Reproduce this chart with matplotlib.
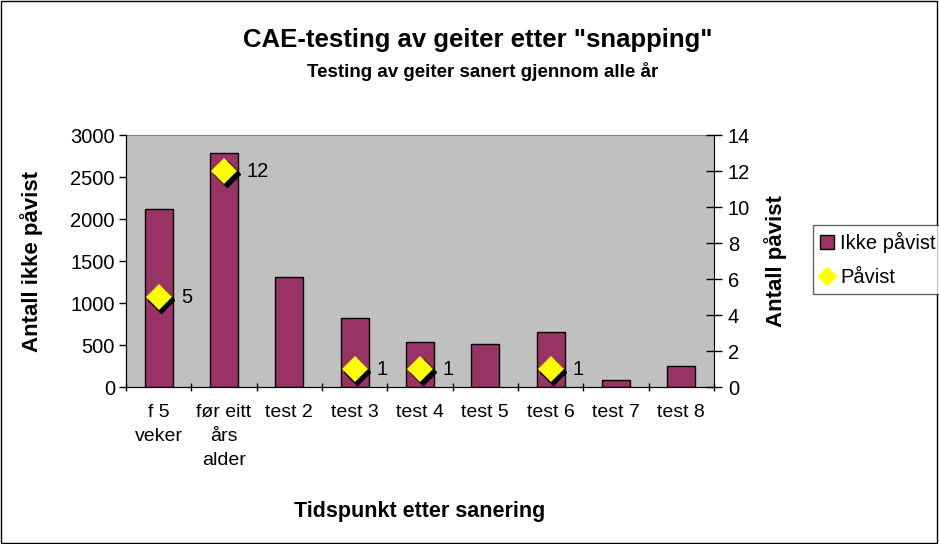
import numpy as np
import matplotlib.pyplot as plt
import matplotlib.transforms as mtransforms
from matplotlib.lines import Line2D
from matplotlib.patches import Patch, Rectangle

# data
categories = ['f 5\nveker', 'før eitt\nårs\nalder', 'test 2', 'test 3', 'test 4',
              'test 5', 'test 6', 'test 7', 'test 8']
ikke_pavist = [2120, 2780, 1310, 820, 530, 510, 650, 80, 250]
pavist_idx = [0, 1, 3, 4, 6]
pavist = [5, 12, 1, 1, 1]

plt.rcParams['font.family'] = ['Liberation Sans', 'DejaVu Sans']

fig = plt.figure(figsize=(9.39, 5.44), dpi=100)
fig.patches.append(Rectangle((0.001, 0.002), 0.997, 0.996, transform=fig.transFigure,
                             fill=False, edgecolor='black', linewidth=1))

ax = fig.add_axes([0.1342, 0.2886, 0.6262, 0.4632])
ax.set_facecolor('#C0C0C0')
x = np.arange(len(categories))
ax.bar(x, ikke_pavist, width=0.43, color='#993366', edgecolor='black', linewidth=1, zorder=2)
ax.set_xlim(-0.5, len(categories) - 0.5)
ax.set_ylim(0, 3000)
ax.set_yticks(np.arange(0, 3001, 500))
ax.set_xticks(x)
ax.set_xticklabels(categories, fontsize=14, linespacing=1.55)
ax.set_xticks(np.arange(-0.5, len(categories)), minor=True)
ax.tick_params(axis='x', which='major', length=0, pad=12)
ax.tick_params(axis='x', which='minor', length=6, direction='inout', width=1)
ax.tick_params(axis='y', labelsize=14.5, length=5, direction='out', width=1, pad=3)
ax.spines['top'].set_color('#808080')
ax.spines['right'].set_visible(False)
ax.set_ylabel('Antall ikke påvist', fontsize=16, fontweight='bold')
ax.yaxis.set_label_coords(-0.141, 0.5)
ax.set_xlabel('Tidspunkt etter sanering', fontsize=15.5, fontweight='bold')
ax.xaxis.set_label_coords(0.5, -0.496)
ax.xaxis.label.set_va('center')

ax2 = ax.twinx()
ax2.set_ylim(0, 14)
ax2.set_yticks(np.arange(0, 15, 2))
ax2.tick_params(axis='y', labelsize=14.5, length=12, direction='inout', width=1, pad=4)
ax2.spines['top'].set_visible(False)
ax2.set_ylabel('Antall påvist', fontsize=16, fontweight='bold')
ax2.yaxis.set_label_coords(1.104, 0.5)
ax2.yaxis.label.set_va('center')

# diamonds with shadow
shadow = mtransforms.offset_copy(ax2.transData, fig=fig, x=2.5, y=-2.5, units='dots')
ax2.plot(pavist_idx, pavist, linestyle='none', marker='D', markersize=13.5,
         color='black', transform=shadow, zorder=3)
ax2.plot(pavist_idx, pavist, linestyle='none', marker='D', markersize=13.5,
         color='#FFFF00', markeredgewidth=0, zorder=4)
for i, v in zip(pavist_idx, pavist):
    ax2.annotate(str(v), (i, v), xytext=(16, 0), textcoords='offset points',
                 va='center', fontsize=14.5, zorder=5)

fig.text(0.5085, 0.926, 'CAE-testing av geiter etter "snapping"', ha='center', va='center',
         fontsize=18.5, fontweight='bold')
fig.text(0.514, 0.868, 'Testing av geiter sanert gjennom alle år', ha='center', va='center',
         fontsize=13.5, fontweight='bold')

handles = [Patch(facecolor='#993366', edgecolor='black', label='Ikke påvist'),
           Line2D([], [], linestyle='none', marker='D', markersize=9, color='#FFFF00',
                  label='Påvist')]
leg = fig.legend(handles=handles, loc='upper left', bbox_to_anchor=(0.866, 0.587),
                 fontsize=14.5, frameon=True, fancybox=False, edgecolor='#404040',
                 handlelength=0.7, handletextpad=0.3, borderpad=0.35, labelspacing=0.75,
                 borderaxespad=0)
leg.get_frame().set_linewidth(1)

fig.savefig('out.png', dpi=100)
